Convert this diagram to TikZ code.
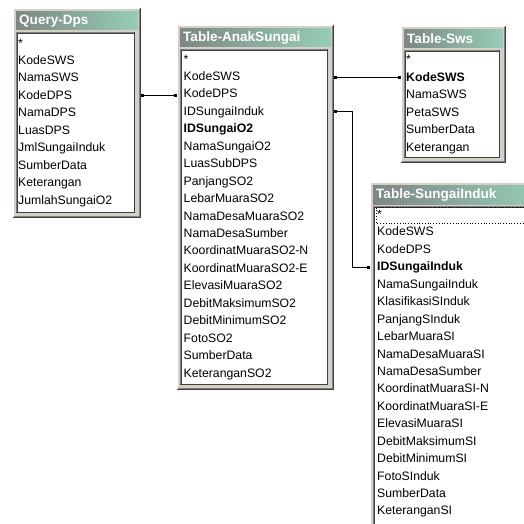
\documentclass[tikz,border=0pt]{standalone}
\usepackage{fontspec}
\setmainfont{Liberation Sans}
\usetikzlibrary{arrows.meta,calc}
\definecolor{winface}{HTML}{D4D0C8}
\definecolor{windark}{HTML}{404040}
\definecolor{winshadow}{HTML}{808080}
\definecolor{tgray}{HTML}{7E8783}
\definecolor{tteal}{HTML}{96CDB6}
\tikzset{
  winframe/.style={fill=winface, draw=none, inner sep=0pt, outer sep=0pt},
  rowtext/.style={anchor=west, inner sep=0pt, font=\fontsize{12.3}{14}\selectfont, text height=9bp, text depth=2bp},
  titletext/.style={anchor=west, inner sep=0pt, text=white, font=\fontsize{13.6}{15}\selectfont\bfseries},
  link/.style={draw=black, line width=1bp, {Square[length=3bp,width=3bp]}-{Square[length=3bp,width=3bp]}},
}
\newcommand\dbwindow[6]{% name, x, y, w, h, title
  \node[winframe, minimum width=#4bp, minimum height=#5bp, anchor=north west] (#1) at (#2,#3) {};
  \draw[white, line width=1bp] ([shift={(0.5bp,0bp)}]#1.south west) -- ([shift={(0.5bp,-0.5bp)}]#1.north west) -- ([shift={(0bp,-0.5bp)}]#1.north east);
  \draw[winshadow, line width=1bp] ([shift={(-2bp,-1bp)}]#1.north east) -- ([shift={(-2bp,2bp)}]#1.south east) -- ([shift={(1bp,2bp)}]#1.south west);
  \draw[windark, line width=1.5bp] ([shift={(-0.75bp,0bp)}]#1.north east) -- ([shift={(-0.75bp,0.75bp)}]#1.south east) -- ([shift={(0bp,0.75bp)}]#1.south west);
  \shade[left color=tgray, right color=tteal] ([shift={(3bp,-4bp)}]#1.north west) rectangle ([shift={(-3bp,-22bp)}]#1.north east);
  \node[titletext] (#1-title) at ([shift={(6bp,-13bp)}]#1.north west) {#6};
  \fill[white] ([shift={(3bp,-24bp)}]#1.north west) rectangle ([shift={(-6bp,5bp)}]#1.south east);
  \draw[winshadow, line width=1bp] ([shift={(3.5bp,5bp)}]#1.south west) -- ([shift={(3.5bp,-24.5bp)}]#1.north west) -- ([shift={(-6bp,-24.5bp)}]#1.north east);
  \draw[windark, line width=1bp] ([shift={(4.5bp,5bp)}]#1.south west) -- ([shift={(4.5bp,-25.5bp)}]#1.north west) -- ([shift={(-6bp,-25.5bp)}]#1.north east);
  \draw[windark, line width=0.8bp] ([shift={(-6.4bp,-24bp)}]#1.north east) -- ([shift={(-6.4bp,5.4bp)}]#1.south east) -- ([shift={(3bp,5.4bp)}]#1.south west);
}
\begin{document}
\begin{tikzpicture}[x=1bp,y=-1bp]
\useasboundingbox (0,0) rectangle (524,524);
\fill[white] (0,0) rectangle (524,524);
\clip (0,0) rectangle (524,524);

% Query-Dps
\dbwindow{qwin}{13}{8}{128}{210}{Query-Dps}
\foreach \t [count=\i] in {*,KodeSWS,NamaSWS,KodeDPS,NamaDPS,LuasDPS,JmlSungaiInduk,SumberData,Keterangan,JumlahSungaiO2}
  \node[rowtext] (q\i) at (18,{43.6+(\i-1)*17.44}) {\t};

% Table-AnakSungai
\dbwindow{awin}{177}{25}{157}{365}{Table-AnakSungai}
\foreach \t [count=\i] in {*,KodeSWS,KodeDPS,IDSungaiInduk,\textbf{IDSungaiO2},NamaSungaiO2,LuasSubDPS,PanjangSO2,LebarMuaraSO2,NamaDesaMuaraSO2,NamaDesaSumber,KoordinatMuaraSO2-N,KoordinatMuaraSO2-E,ElevasiMuaraSO2,DebitMaksimumSO2,DebitMinimumSO2,FotoSO2,SumberData,KeteranganSO2}
  \node[rowtext] (a\i) at (183.5,{59.6+(\i-1)*17.44}) {\t};

% Table-Sws
\dbwindow{swin}{401}{26}{105}{137}{Table-Sws}
\foreach \t [count=\i] in {*,\textbf{KodeSWS},NamaSWS,PetaSWS,SumberData,Keterangan}
  \node[rowtext] (s\i) at (406,{60.5+(\i-1)*17.44}) {\t};

% Table-SungaiInduk
\dbwindow{iwin}{370}{182}{175}{360}{Table-SungaiInduk}
\draw[dotted, line width=0.8bp] (535,207.5) -- (376,207.5) -- (376,223) -- (535,223);
\foreach \t [count=\i] in {*,KodeSWS,KodeDPS,\textbf{IDSungaiInduk},NamaSungaiInduk,KlasifikasiSInduk,PanjangSInduk,LebarMuaraSI,NamaDesaMuaraSI,NamaDesaSumber,KoordinatMuaraSI-N,KoordinatMuaraSI-E,ElevasiMuaraSI,DebitMaksimumSI,DebitMinimumSI,FotoSInduk,SumberData,KeteranganSI}
  \node[rowtext] (i\i) at (377,{215+(\i-1)*17.44}) {\t};

% relationships
\coordinate (bend) at (352,0);
\draw[link] (qwin.east |- q4.west) -- (awin.west |- q4.west);
\draw[link] (awin.east |- a2.west) -- (swin.west |- a2.west);
\draw[link] (awin.east |- a4.west) -| (bend |- i4.west) -- (iwin.west |- i4.west);
\end{tikzpicture}
\end{document}
